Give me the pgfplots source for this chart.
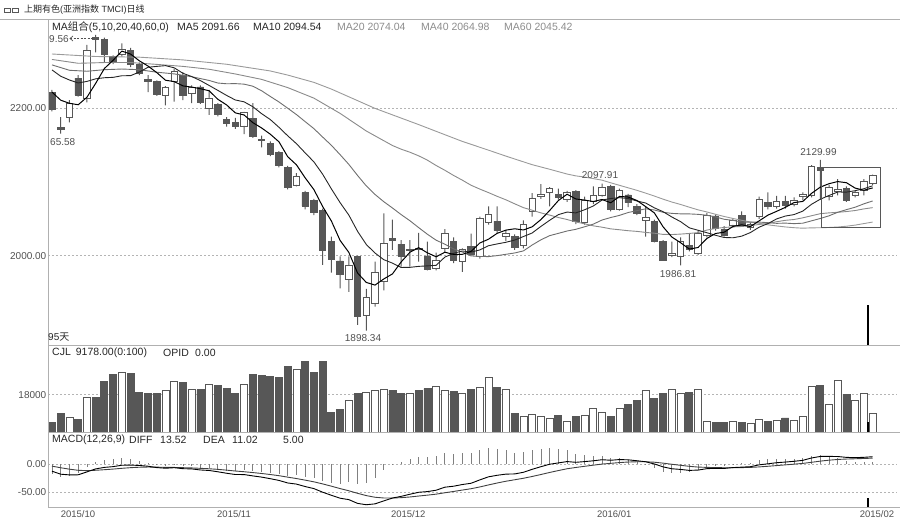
\documentclass[border=0pt]{standalone}
\usepackage{fontspec}
\setmainfont{Liberation Sans}
\newfontfamily\cjk{Noto Sans CJK SC}
\usepackage{pgfplots}
\usepackage{pgfplotstable}
\pgfplotsset{compat=1.18}

\definecolor{dk}{HTML}{575757}
\definecolor{lbl}{HTML}{505050}
\definecolor{grd}{HTML}{B4B4B4}
\definecolor{frm}{HTML}{B0B0B0}
\definecolor{maA}{HTML}{6E6E6E}
\definecolor{maB}{HTML}{8A8A8A}
\definecolor{maC}{HTML}{9A9A9A}
\newcommand\fs[1]{\fontsize{#1}{#1}\selectfont}

% daily bars: index, open, high, low, close, volume
\pgfplotstableread{
x o h l c v
0 2222 2225 2196 2199 4500
1 2174 2188 2165.58 2172 9000
2 2187 2211 2181 2207 7240
3 2241 2245 2216 2218 5940
4 2214 2286 2208 2279 16890
5 2296 2299.56 2276 2293 16890
6 2294 2296 2263 2273 24610
7 2270 2272 2260 2263 27850
8 2273 2288 2270 2280 28620
9 2279 2282 2256 2259 28140
10 2260 2262 2245 2247.5 19300
11 2239 2245 2222 2237 18820
12 2236 2238 2217 2219 18820
13 2217 2230 2204 2228 20120
14 2236 2254 2209 2250 24610
15 2245 2249 2211 2218 24130
16 2220 2231 2207 2229 20410
17 2229 2231 2206 2208 20410
18 2200 2225 2191 2214 23020
19 2205 2207 2189 2192 22340
20 2185 2188 2175 2180 20900
21 2180.5 2187 2172 2175 18820
22 2176 2195 2165 2194 23020
23 2186 2207 2160 2162 27850
24 2158 2163 2147 2156 27360
25 2152.5 2155 2135 2137.6 26880
26 2140 2142 2120 2123 26200
27 2120 2122 2090 2093 31710
28 2096 2112 2094 2107 30070
29 2085.5 2088 2063 2067.4 34120
30 2074.6 2077 2055 2058.3 28620
31 2062 2064 1987.4 2007.7 34120
32 2019 2025.8 1977 1995 9650
33 1992.8 1999 1955.8 1975.2 10760
34 1968 1999 1951 1986.4 15300
35 1998.6 2000 1906 1918.2 18480
36 1919.5 1955 1898.34 1943.6 18970
37 1935.4 1992 1931 1977 20120
38 1964.7 2057.5 1953 2016.8 20610
39 2023 2049 2008 2021 20120
40 2015.5 2021 1985 1999.6 18820
41 2007 2021 1985 2009 18820
42 2010 2031 1992 2008 20120
43 1999.6 2019 1980 1982 20900
44 1983 2004 1980 1994 22050
45 2010 2036 2005 2030.4 20120
46 2019 2025 1990 1994 19640
47 1992 2010 1978 2008.7 18820
48 2012 2030 2000 2002 20410
49 1998.6 2053 1996 2050.7 21380
50 2044.8 2067 2042 2056.6 26200
51 2047 2067 2030 2034 21720
52 2026.7 2035 2020 2030 20410
53 2026.7 2029 2008 2011.4 8830
54 2014.5 2048 2010 2042.6 7580
55 2059.7 2085 2053 2077.9 8350
56 2080 2097 2077 2083.3 7580
57 2085.5 2093 2067 2091.5 6760
58 2083.3 2091 2076 2078.7 8060
59 2076.5 2088 2073 2085.5 5160
60 2086.8 2089 2043 2046.1 7580
61 2044.8 2080 2042 2075.6 8060
62 2073.3 2094 2070 2081.4 11580
63 2082.4 2097.91 2080 2092.8 9510
64 2093.6 2096 2060 2063 7580
65 2063 2091 2061 2089 11580
66 2082.4 2084 2066 2072 13510
67 2067.4 2070 2055 2057.5 15110
68 2048.4 2066 2026 2051.6 20120
69 2047 2049 2018 2020 16070
70 2019 2021 1993 1994.2 18480
71 2001 2019 1998 2003 20410
72 1999.6 2025 1986.81 2019 18480
73 2014.5 2030 2006 2008.7 19160
74 2003.3 2034 2001 2030.4 20410
75 2028 2058 2025 2055.2 4970
76 2053.9 2056 2034 2037.2 4490
77 2035 2040 2026 2028 4490
78 2041.7 2051 2038 2047.5 4970
79 2055.2 2060 2040 2041.7 4490
80 2038.5 2045 2035 2043 4010
81 2053 2080 2050 2076.5 6270
82 2072 2086 2063 2066.5 5310
83 2067.4 2081 2064 2073.3 5790
84 2073.3 2081 2064 2068.8 6760
85 2070 2079 2067 2075.6 5790
86 2080 2086 2075 2083.7 7580
87 2082.4 2123 2079 2121.7 21860
88 2120 2129.99 2076 2115.3 22340
89 2081 2096 2075 2092.3 13370
90 2087 2104 2082 2090 24950
91 2091.5 2094 2073 2075.6 18340
92 2082.4 2088 2079 2085.5 15110
93 2088.2 2104 2082 2100.4 18480
94 2098.2 2110 2096 2108.5 8830
}\kline

\pgfplotstableread{
x ma5 ma10
0 2222 2252.1
1 2211 2243.5
2 2206.8 2238.4
3 2204.8 2234.4
4 2215 2236.5
5 2233.8 2240
6 2254 2241.5
7 2265.2 2242
8 2277.6 2244.2
9 2273.6 2244.3
10 2264.5 2249.2
11 2257.3 2255.7
12 2248.5 2256.9
13 2238.1 2257.9
14 2236.3 2255
15 2230.4 2247.5
16 2228.8 2243.1
17 2226.6 2237.6
18 2223.8 2231
19 2212.2 2224.3
20 2204.6 2217.5
21 2193.8 2211.3
22 2191 2208.8
23 2180.6 2202.2
24 2173.4 2192.8
25 2164.9 2184.8
26 2154.5 2174.2
27 2134.3 2162.7
28 2123.3 2152
29 2105.6 2139.5
30 2089.7 2127.3
31 2066.7 2110.6
32 2047.1 2090.7
33 2020.7 2072
34 2004.5 2055.1
35 1976.5 2033.1
36 1963.7 2015.2
37 1960.1 2003.6
38 1968.4 1994.6
39 1975.3 1989.9
40 1991.6 1984
41 2004.7 1984.2
42 2010.9 1985.5
43 2003.9 1986.2
44 1998.5 1986.9
45 2004.7 1998.1
46 2001.7 2003.2
47 2001.8 2006.4
48 2005.8 2004.9
49 2017.2 2007.8
50 2022.4 2013.5
51 2030.4 2016
52 2034.7 2018.2
53 2036.5 2021.2
54 2034.9 2026
55 2039.2 2030.8
56 2049 2039.7
57 2061.3 2048
58 2074.8 2055.7
59 2083.4 2059.2
60 2077 2058.1
61 2075.5 2062.3
62 2073.5 2067.4
63 2076.3 2075.5
64 2071.8 2077.6
65 2080.4 2078.7
66 2079.6 2077.6
67 2074.9 2074.2
68 2066.6 2071.5
69 2058 2064.9
70 2039.1 2059.7
71 2025.3 2052.5
72 2017.6 2046.2
73 2009 2037.8
74 2011.1 2034.5
75 2023.3 2031.2
76 2030.1 2027.7
77 2031.9 2024.7
78 2039.7 2024.3
79 2041.9 2026.5
80 2039.5 2031.4
81 2047.3 2038.7
82 2055 2043.5
83 2060.2 2049.9
84 2065.6 2053.8
85 2072.1 2055.8
86 2073.6 2060.5
87 2084.6 2069.8
88 2093 2076.6
89 2097.7 2081.7
90 2100.6 2086.4
91 2099 2086.3
92 2091.7 2088.2
93 2088.8 2090.9
94 2092 2094.9
}\mashort

\pgfplotstableread{
x dif dea m
0 -12.27 -3.25 -18.0
1 -17.64 -6.13 -23.0
2 -18.85 -8.67 -20.4
3 -18.70 -10.68 -16.0
4 -13.51 -11.25 -4.5
5 -8.17 -10.63 4.9
6 -5.48 -9.60 8.2
7 -4.12 -8.50 8.8
8 -1.64 -7.13 11.0
9 -1.36 -5.98 9.2
10 -2.04 -5.19 6.3
11 -3.39 -4.83 2.9
12 -5.84 -5.03 -1.6
13 -6.98 -5.42 -3.1
14 -6.04 -5.54 -1.0
15 -7.79 -5.99 -3.6
16 -8.19 -6.43 -3.5
17 -10.09 -7.16 -5.9
18 -10.98 -7.92 -6.1
19 -13.31 -9.00 -8.6
20 -15.94 -10.39 -11.1
21 -18.22 -11.96 -12.5
22 -18.28 -13.22 -10.1
23 -20.67 -14.71 -11.9
24 -22.79 -16.33 -12.9
25 -25.65 -18.19 -14.9
26 -28.77 -20.31 -16.9
27 -33.28 -22.90 -20.8
28 -35.32 -25.38 -19.9
29 -39.67 -28.24 -22.9
30 -43.35 -31.26 -24.2
31 -49.78 -34.96 -29.6
32 -55.26 -39.02 -32.5
33 -60.50 -43.32 -34.4
34 -63.03 -47.26 -31.5
35 -69.74 -51.76 -36.0
36 -72.17 -55.84 -32.7
37 -70.58 -58.79 -23.6
38 -65.36 -60.10 -10.5
39 -60.19 -60.12 -0.1
40 -57.17 -59.53 4.7
41 -53.40 -58.30 9.8
42 -49.91 -56.62 13.4
43 -48.68 -55.03 12.7
44 -46.21 -53.27 14.1
45 -40.84 -50.78 19.9
46 -39.08 -48.44 18.7
47 -36.08 -45.97 19.8
48 -33.84 -43.54 19.4
49 -27.82 -40.40 25.2
50 -22.32 -36.78 28.9
51 -19.55 -33.33 27.6
52 -17.49 -30.16 25.3
53 -17.15 -27.56 20.8
54 -14.21 -24.89 21.4
55 -8.92 -21.70 25.6
56 -4.24 -18.21 27.9
57 0.12 -14.54 29.3
58 2.52 -11.13 27.3
59 4.91 -7.92 25.7
60 3.59 -5.62 18.4
61 4.86 -3.52 16.8
62 6.27 -1.56 15.7
63 8.21 0.39 15.6
64 7.26 1.76 11.0
65 8.50 3.11 10.8
66 8.02 4.09 7.9
67 6.40 4.55 3.7
68 4.59 4.56 0.1
69 0.60 3.77 -6.3
70 -4.60 2.10 -13.4
71 -7.91 0.10 -16.0
72 -9.14 -1.75 -14.8
73 -10.83 -3.57 -14.5
74 -10.29 -4.91 -10.8
75 -7.77 -5.48 -4.6
76 -7.15 -5.81 -2.7
77 -7.32 -6.11 -2.4
78 -5.81 -6.05 0.5
79 -5.02 -5.84 1.6
80 -4.24 -5.52 2.6
81 -0.91 -4.60 7.4
82 0.91 -3.50 8.8
83 2.87 -2.23 10.2
84 4.02 -0.98 10.0
85 5.41 0.30 10.2
86 7.08 1.66 10.8
87 11.34 3.60 15.5
88 14.04 5.69 16.7
89 14.17 7.39 13.6
90 13.91 8.69 10.4
91 12.41 9.43 6.0
92 11.88 9.92 3.9
93 12.52 10.44 4.2
94 13.53 11.06 4.9
}\macd

\pgfplotsset{
  panel/.style={
    scale only axis, width=849pt, xmin=-0.458, xmax=96.79, anchor=south west,
    axis line style={draw=none}, major tick length=0pt,
    xtick=\empty, scaled y ticks=false,
    grid style={draw=grd, dash pattern=on 2pt off 2pt, line width=0.8pt},
    yticklabel style={font=\fs{10}, text=lbl, inner sep=1.5pt},
    xticklabel style={font=\fs{9.5}, text=lbl},
  },
}

\begin{document}
\begin{tikzpicture}

% candles
\begin{axis}[panel, at={(48pt,178pt)}, height=326pt, ymin=1878.8, ymax=2321.2,
  ybar stacked, ytick={2000,2200}, yticklabels={2000.00,2200.00}, ymajorgrids]
  \addplot[draw=none, fill=none, bar width=1pt] table[x=x, y=l] {\kline};
  \addplot[fill=dk, draw=none, bar width=1pt] table[x=x, y expr={min(\thisrow{o},\thisrow{c})-\thisrow{l}}] {\kline};
  \addplot[fill=white, draw=dk, line width=0.8pt, bar width=6.5pt] table[x=x, y expr={max(\thisrow{c}-\thisrow{o},0)}] {\kline};
  \addplot[fill=dk, draw=dk, line width=0.8pt, bar width=6.5pt] table[x=x, y expr={max(\thisrow{o}-\thisrow{c},0)}] {\kline};
  \addplot[fill=dk, draw=none, bar width=1pt] table[x=x, y expr={\thisrow{h}-max(\thisrow{o},\thisrow{c})}] {\kline};
\end{axis}

% moving averages
\begin{axis}[panel, at={(48pt,178pt)}, height=326pt, ymin=1878.8, ymax=2321.2, ytick=\empty, no markers]
  \addplot[maC, line width=0.9pt] coordinates {(0,2273.7) (5,2270.3) (10,2269.4) (15,2265.7) (20,2259.8) (25,2250.7) (27,2245.1) (30,2235.2) (32,2226.1) (35,2210.4) (37,2199.9) (40,2186.7) (42,2177.9) (45,2164.2) (47,2155.1) (50,2143.2) (52,2135.1) (55,2123.5) (57,2117.3) (59,2110.8) (60,2108.3) (61,2106.7) (62,2104.6) (63,2102.5) (64,2098.9) (65,2095.5) (66,2092.1) (67,2088.7) (68,2084.9) (69,2080.9) (70,2076.7) (71,2072.8) (72,2069.5) (73,2065.8) (74,2062.2) (75,2059.4) (76,2056.2) (77,2053.2) (78,2050.5) (79,2048) (80,2045.7) (81,2044) (82,2041.9) (83,2040.4) (84,2039) (85,2038) (86,2037.3) (87,2037.8) (88,2037.9) (89,2038.3) (90,2038.9) (91,2040) (92,2041.5) (93,2043.6) (94,2045.6)};
  \addplot[maB, line width=0.9pt] coordinates {(0,2266.3) (3,2261.1) (6,2262.1) (9,2262.1) (12,2259.6) (15,2256.9) (18,2253) (21,2246.6) (24,2239.3) (27,2228.1) (30,2213.8) (33,2193.1) (36,2169.2) (39,2149.5) (40,2144.5) (41,2140.4) (42,2135.5) (43,2129.6) (44,2122.4) (45,2115.9) (46,2108.9) (47,2102.5) (48,2095.6) (49,2090.4) (50,2085.6) (51,2080.5) (52,2075.8) (53,2070.4) (54,2065.2) (55,2061.7) (56,2058.1) (57,2055.1) (58,2051.8) (59,2049.1) (60,2045.8) (61,2043.3) (62,2040.5) (63,2038.7) (64,2036.4) (65,2035.2) (66,2033.9) (67,2033) (68,2031.6) (69,2030.5) (70,2028.9) (71,2028.7) (72,2029.3) (73,2030.2) (74,2031.3) (75,2034.7) (76,2037) (77,2038.3) (78,2039.1) (79,2039.6) (80,2040.7) (81,2042.4) (82,2043.8) (83,2046.1) (84,2048) (85,2049.1) (86,2051.4) (87,2054.2) (88,2057) (89,2058.1) (90,2058.9) (91,2059.9) (92,2061.3) (93,2063.5) (94,2065.2)};
  \addplot[maA, line width=0.9pt] coordinates {(0,2258.9) (2,2251.6) (4,2250.3) (6,2252.4) (8,2253.3) (10,2252.4) (12,2249) (14,2246.7) (16,2242.9) (18,2237.8) (19,2234.3) (20,2233.3) (21,2233.5) (22,2232.8) (23,2230) (24,2223.9) (25,2216.1) (26,2208.6) (27,2200.1) (28,2191.5) (29,2181.9) (30,2172.4) (31,2161) (32,2149.8) (33,2137.1) (34,2123.9) (35,2108.9) (36,2094.7) (37,2083.1) (38,2073.3) (39,2064.7) (40,2055.7) (41,2047.4) (42,2038.1) (43,2029.1) (44,2021) (45,2015.6) (46,2009.2) (47,2005) (48,1999.7) (49,1998.9) (50,1998.8) (51,2000.1) (52,2001.9) (53,2003.7) (54,2006.5) (55,2014.5) (56,2021.5) (57,2027.2) (58,2030.3) (59,2033.5) (60,2035.8) (61,2039.2) (62,2042.8) (63,2048.4) (64,2051.8) (65,2054.7) (66,2058.6) (67,2061.1) (68,2063.6) (69,2062) (70,2058.9) (71,2057.4) (72,2056.8) (73,2056.7) (74,2056.1) (75,2054.9) (76,2052.6) (77,2049.4) (78,2047.9) (79,2045.7) (80,2045.5) (81,2045.6) (82,2044.8) (83,2043.9) (84,2044.2) (85,2043.5) (86,2044.1) (87,2047.3) (88,2050.5) (89,2054.1) (90,2058.9) (91,2062.5) (92,2065.8) (93,2070.4) (94,2074.3)};
  \addplot[black!85, line width=0.9pt] table[x=x, y=ma10] {\mashort};
  \addplot[black, line width=1pt] table[x=x, y=ma5] {\mashort};
\end{axis}

% volume
\begin{axis}[panel, at={(48pt,91pt)}, height=87pt, ymin=0, ymax=42000,
  ybar stacked, ytick={18000}, yticklabels={18000}, ymajorgrids]
  \addplot[fill=white, draw=dk, line width=0.8pt, bar width=7pt] table[x=x, y expr={ifthenelse(\thisrow{c}>\thisrow{o},\thisrow{v},0)}] {\kline};
  \addplot[fill=dk, draw=dk, line width=0.8pt, bar width=7pt] table[x=x, y expr={ifthenelse(\thisrow{c}>\thisrow{o},0,\thisrow{v})}] {\kline};
\end{axis}

% MACD
\begin{axis}[panel, at={(48pt,16pt)}, height=75pt, ymin=-76.2, ymax=57.7,
  ytick={-50,0}, yticklabels={-50.00,0.00}, ymajorgrids, no markers,
  xtick={2.98,20.85,40.8,64.4,94.5},
  xticklabels={2015/10,2015/11,2015/12,2016/01,2015/02}]
  \addplot[ycomb, gray, line width=0.8pt] table[x=x, y=m] {\macd};
  \addplot[black!75, line width=0.9pt] table[x=x, y=dea] {\macd};
  \addplot[black, line width=0.9pt] table[x=x, y=dif] {\macd};
\end{axis}

\begin{scope}[x=1pt, y=1pt]
% frames
\draw[frm, line width=0.9pt] (0,504) -- (900,504);
\draw[frm, line width=0.9pt] (48,178) -- (900,178);
\draw[frm, line width=0.9pt] (48,91) -- (900,91);
\draw[frm, line width=0.9pt] (48,16) -- (900,16);
\draw[frm, line width=0.9pt] (48,16) -- (48,504);

% title and legends
\draw[dk, line width=0.8pt] (4,511) rectangle (10,515);
\draw[dk, line width=0.8pt] (12,511) rectangle (18,515);
\node[anchor=west, inner sep=0, font=\fs{9}, text=black!85] at (24,513)
  {{\cjk 上期有色}({\cjk 亚洲指数} TMCI){\cjk 日线}};
\begin{scope}[every node/.style={anchor=west, inner sep=0, font=\fs{10.5}}]
  \node[text=black!85] at (52,496) {MA{\cjk 组合}(5,10,20,40,60,0)};
  \node[text=black!85] at (177,496) {MA5 2091.66};
  \node[text=black!85] at (253,496) {MA10 2094.54};
  \node[text=black!45] at (337,496) {MA20 2074.04};
  \node[text=black!45] at (421,496) {MA40 2064.98};
  \node[text=black!45] at (504,496) {MA60 2045.42};
  \node[text=black!85] at (52,170) {CJL\hspace{5pt}9178.00(0:100)};
  \node[text=black!85] at (163,170) {OPID};
  \node[text=black!85] at (195,170) {0.00};
  \node[text=black!85] at (52,83) {MACD(12,26,9)};
  \node[text=black!85] at (129,83) {DIFF};
  \node[text=black!85] at (160,83) {13.52};
  \node[text=black!85] at (203,83) {DEA};
  \node[text=black!85] at (232,83) {11.02};
  \node[text=black!85] at (283,83) {5.00};
  \node[text=black!85, font=\fs{10}] at (48,185.5) {95{\cjk 天}};
\end{scope}

% price annotations
\begin{scope}[every node/.style={inner sep=0, font=\fs{10}, text=lbl}]
  \node[anchor=west] at (49,484) {9.56};
  \node[anchor=west] at (50,381.3) {65.58};
  \node at (363,185) {1898.34};
  \node at (600,347.5) {2097.91};
  \node at (678,249) {1986.81};
  \node at (818.5,371) {2129.99};
\end{scope}
\draw[lbl, line width=0.7pt, dash pattern=on 2pt off 1.5pt] (70,484.5) -- (93,484.5);
\draw[lbl, line width=0.7pt] (73,487) -- (70,484.5) -- (73,482);

% marked box and cursor
\draw[dk, line width=0.8pt] (821,356) rectangle (880,296);
\draw[black, line width=1.2pt] (868,218) -- (868,178);
\draw[black, line width=1.2pt] (868,101) -- (868,91);
\draw[black, line width=1.2pt] (868,25) -- (868,16);

\pgfresetboundingbox
\useasboundingbox (0,0) rectangle (900,523);
\end{scope}
\end{tikzpicture}
\end{document}
